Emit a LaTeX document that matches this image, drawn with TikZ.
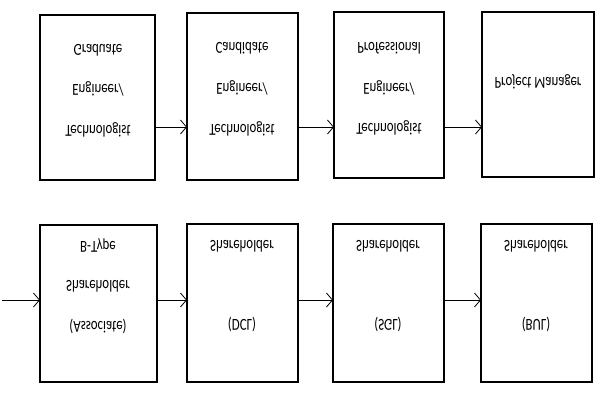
\documentclass[tikz,border=0pt]{standalone}
\usepackage{fontspec}
\setmainfont{Carlito}
\usetikzlibrary{arrows.meta}
\begin{document}
\begin{tikzpicture}[x=1pt,y=-1pt,
  boxstyle/.style={draw,line width=1.6pt},
  lbl/.style={font=\fontsize{14}{16}\selectfont,anchor=center,xscale=0.92,yscale=-1.2,transform shape},
  conn/.style={-{Straight Barb[length=6pt,width=14pt]},line width=0.8pt}]
\useasboundingbox (0,0) rectangle (600,400);
% top row
\draw[boxstyle] (40,15) rectangle (155,180); \coordinate (a1) at (155,127);
\draw[boxstyle] (187,13) rectangle (298,180); \coordinate (a2l) at (187,127); \coordinate (a2r) at (298,127);
\draw[boxstyle] (334,12) rectangle (444,178); \coordinate (a3l) at (334,127); \coordinate (a3r) at (444,127);
\draw[boxstyle] (482,12) rectangle (594,177); \coordinate (a4l) at (482,127);
\draw[conn] (a1) -- (a2l);
\draw[conn] (a2r) -- (a3l);
\draw[conn] (a3r) -- (a4l);
\node[lbl] (t1a) at (98,50) {Graduate};
\node[lbl] (t1b) at (98,89) {Engineer/};
\node[lbl] (t1c) at (98,130) {Technologist};
\node[lbl] (t2a) at (242,48) {Candidate};
\node[lbl] (t2b) at (242,88) {Engineer/};
\node[lbl] (t2c) at (242,129) {Technologist};
\node[lbl] (t3a) at (389,48) {Professional};
\node[lbl] (t3b) at (389,88) {Engineer/};
\node[lbl] (t3c) at (389,128) {Technologist};
\node[lbl] (t4) at (538,82) {Project Manager};
% bottom row
\draw[boxstyle] (40,225) rectangle (157,382); \coordinate (b1l) at (40,300); \coordinate (b1r) at (157,300);
\draw[boxstyle] (187,224) rectangle (298,382); \coordinate (b2l) at (187,300); \coordinate (b2r) at (298,300);
\draw[boxstyle] (333,224) rectangle (444,382); \coordinate (b3l) at (333,300); \coordinate (b3r) at (444,300);
\draw[boxstyle] (481,224) rectangle (592,382); \coordinate (b4l) at (481,300);
\coordinate (b0) at (2,300);
\draw[conn] (b0) -- (b1l);
\draw[conn] (b1r) -- (b2l);
\draw[conn] (b2r) -- (b3l);
\draw[conn] (b3r) -- (b4l);
\node[lbl] (s1a) at (98,246) {B-Type};
\node[lbl] (s1b) at (98,286) {Shareholder};
\node[lbl] (s1c) at (98,326) {(Associate)};
\node[lbl] (s2a) at (242,246) {Shareholder};
\node[lbl] (s2b) at (242,324) {(DCL)};
\node[lbl] (s3a) at (388,246) {Shareholder};
\node[lbl] (s3b) at (388,324) {(SGL)};
\node[lbl] (s4a) at (536,246) {Shareholder};
\node[lbl] (s4b) at (536,324) {(BUL)};
\end{tikzpicture}
\end{document}
